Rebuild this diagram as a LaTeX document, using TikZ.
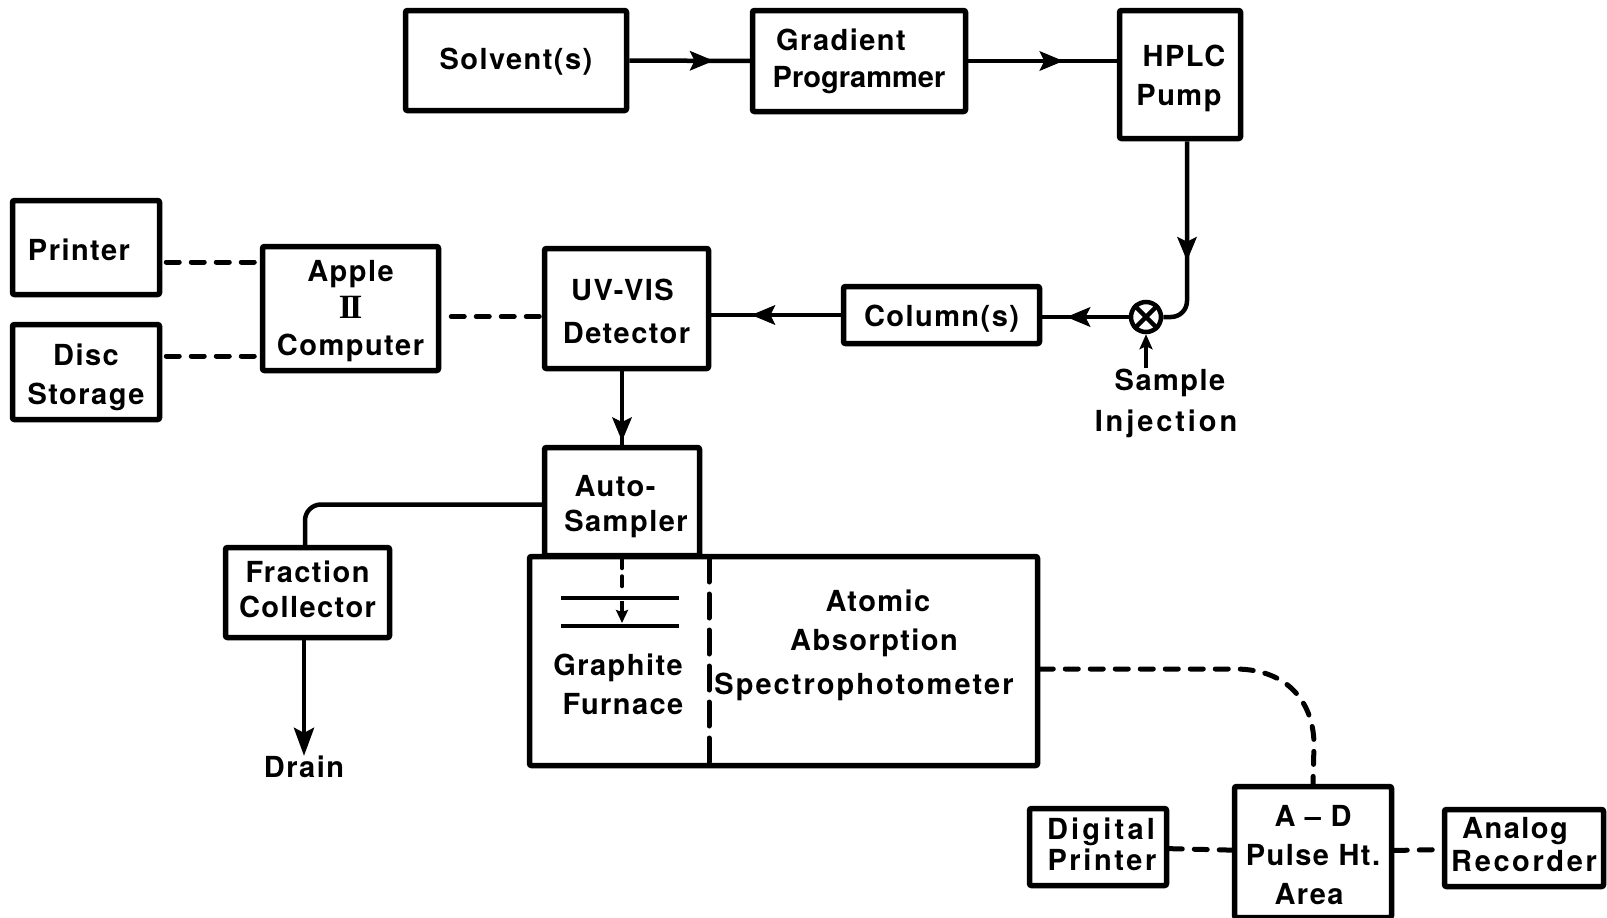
\documentclass[tikz,border=0pt]{standalone}
\usepackage{fontspec}
\setsansfont{TeX Gyre Heros}[LetterSpace=5]
\newfontfamily\numeralfont{Liberation Serif}
\usetikzlibrary{arrows.meta,decorations.markings}
\newcommand{\ls}[2]{{\addfontfeature{LetterSpace=#1}#2}}
\begin{document}
\begin{tikzpicture}[x=1pt,y=-1pt,
            lead/.style = {font=\fontsize{29}{#1}\selectfont\sffamily\bfseries},
            txt/.style = {align=center,
                inner sep=0pt,
                lead=39
                },
            unit/.style = {txt,draw,
                line width=5.5pt,
                rounded corners=2pt
                },
            down/.style = {execute at begin node={\rule{0pt}{#1pt}}},
            up/.style = {execute at end node={\rule[-#1pt]{0pt}{0pt}}},
            flow/.style = {line width=4.5pt},
            flowtip/.style = {flow,postaction={decorate},
                decoration={markings,
                    mark=at position #1 with {\arrow[line width=1pt]{Stealth[length=24pt,width=20pt,inset=5pt]}}}
                },
            link/.style = {line width=5pt,
                line cap=round,
                dash pattern=on 13pt off 12pt
                }]
        
        \useasboundingbox (0,0) rectangle (1607,918);
        
        % Top row
        \node[unit,down=23,minimum width=221pt,minimum height=100pt] (solvent) at (516,60.5) {Solvent(s)};
        \node[unit,lead=37,minimum width=213pt,minimum height=101pt] (gradient) at (859,61) {Gradient\hspace*{36pt}\\\ls{0}{Programmer}};
        \node[unit,down=68,minimum width=121pt,minimum height=128pt] (hplc) at (1180,74.5) {\hspace*{8pt}HPLC\\Pump\hspace*{2pt}};
        
        % Computer side
        \node[unit,down=27,minimum width=147pt,minimum height=94pt] (printer) at (86,247.5) {Printer\hspace*{14pt}};
        \node[unit,down=71,minimum width=147pt,minimum height=95pt] (disc) at (86,372) {Disc\\Storage};
        \node[unit,lead=37,down=100,minimum width=176pt,minimum height=124pt] (apple) at (350.5,308.5)
            {Apple\\{\numeralfont\fontsize{34}{37}\selectfont I\kern-3pt I}\\Computer};
        
        % Middle row
        \node[unit,lead=43,down=70,minimum width=164pt,minimum height=120pt] (uvvis) at (626.5,308.5) {UV-VIS\hspace*{8pt}\\Detector};
        \node[unit,down=29,minimum width=196pt,minimum height=57pt] (column) at (941.5,315) {Column(s)};
        \node[draw,circle,line width=4.5pt,minimum size=30pt,inner sep=0pt] (valve) at (1146,317) {};
        \node[txt,lead=41] (sample) at (1166,403) {Sample\hspace*{-8pt}\\\ls{10}{Injection}};
        
        % Atomic absorption
        \node[unit,minimum width=508pt,minimum height=209pt] (aas) at (783.5,661) {};
        \node[unit,lead=35,down=66,fill=white,minimum width=155pt,minimum height=108pt] (auto) at (622,501.5) {Auto-\hspace*{14pt}\\\hspace*{8pt}Sampler};
        \node[txt] (aastext) at (864,645) {\hspace*{28pt}Atomic\\\hspace*{20pt}Absorption\\[5pt]\ls{7}{Spectrophotometer}};
        \node[txt] (furnace) at (618,684) {Graphite\\\hspace*{10pt}Furnace};
        \node[unit,lead=35,up=6,minimum width=164pt,minimum height=90pt] (fraction) at (307.5,592.5) {Fraction\\Collector};
        \node[txt] (drain) at (304,767) {Drain};
        
        % Bottom row
        \node[unit,lead=31,up=6,minimum width=137pt,minimum height=77pt] (digital) at (1098,847) {\hspace*{6pt}\ls{11}{Digital}\\\hspace*{8pt}\ls{9}{Printer}};
        \node[unit,down=106,minimum width=157pt,minimum height=131pt] (adc) at (1313,852) {A -- D\\Pulse Ht.\\Area\hspace*{8pt}};
        \node[unit,lead=33,up=8,minimum width=159pt,minimum height=77pt] (analog) at (1524,848) {Analog\hspace*{18pt}\\\ls{9}{Recorder}};
        
        % Valve cross
        \draw[flow] (valve.45) -- (valve.225);
        \draw[flow] (valve.135) -- (valve.315);
        
        % Solvent line
        \draw[flowtip=.7] (solvent) -- (gradient);
        \draw[flowtip=.64] (gradient) -- (gradient -| hplc.west);
        \draw[flowtip=.62,rounded corners=16pt] ([xshift=7pt]hplc.south) |- (valve);
        \draw[flowtip=.72] (valve) -- (valve -| column.east);
        \draw[flowtip=.69] (column.west) -- (column.west -| uvvis.east);
        \draw[flowtip=.95] (auto.north |- uvvis.south) -- (auto.north);
        \draw[flow,-{Stealth[length=15pt,width=13pt,inset=3pt]}] (sample.north -| valve) -- (valve);
        
        % Fraction line
        \draw[flow,rounded corners=16pt] ([yshift=-3pt]auto.west) -| ([xshift=-2.5pt]fraction.north);
        \draw[flow,-{Stealth[length=28pt,width=20pt,inset=5pt]}] (drain.north |- fraction.south) -- (drain.north);
        
        % Data links
        \draw[link] ([xshift=4pt,yshift=-14.5pt]printer.east) -- ([yshift=-14.5pt]printer.east -| apple.west);
        \draw[link] ([xshift=4pt,yshift=16pt]disc.east) -- ([yshift=16pt]disc.east -| apple.west);
        \draw[link] ([xshift=10pt,yshift=-8pt]apple.east) -- ([yshift=-8pt]apple.east -| uvvis.west);
        \draw[link] ([yshift=-8pt]aas.east) -- (1235,669) .. controls (1290,669) and (1314,705) .. (1314,745) -- (adc.north);
        \draw[link] (digital) -- (adc);
        \draw[link] (adc) -- (analog);
        
        % Furnace inside
        \coordinate (dashend) at (622,590);
        \coordinate (furnacetop) at (622,601);
        \coordinate (furnacebot) at (622,623);
        \draw[flow] (561,598) -- (679,598);
        \draw[flow] (561,626) -- (679,626);
        \draw[link,line width=4pt,dash pattern=on 10pt off 8pt] (auto.south) -- (dashend);
        \draw[flow,line width=3.5pt,-{Stealth[length=13pt,width=12pt,inset=2pt]}] (furnacetop) -- (furnacebot);
        \draw[link,dash pattern=on 24pt off 12pt] (709,558) -- (709,764);
        
        \end{tikzpicture}
\end{document}
